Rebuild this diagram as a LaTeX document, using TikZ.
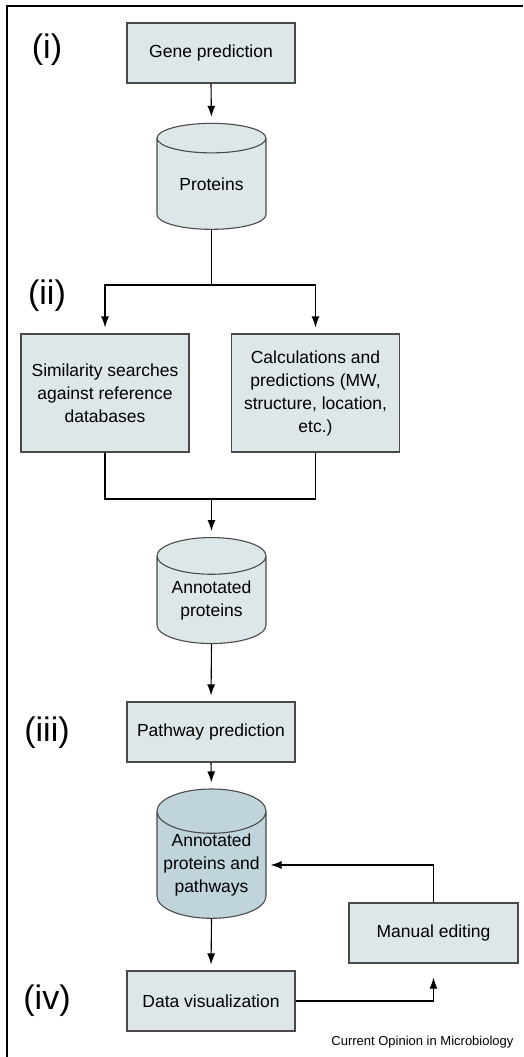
\documentclass[tikz,border=0pt]{standalone}
\usepackage{fontspec}
\setmainfont{Liberation Sans}
\usetikzlibrary{arrows.meta,shapes.geometric}

\definecolor{boxfill}{HTML}{DDE7EA}
\definecolor{darkfill}{HTML}{C0D4DC}
\definecolor{edgegrey}{HTML}{4A4A4A}

\tikzset{
  stepbox/.style={shape=rectangle, draw=edgegrey, line width=1.1pt, fill=boxfill, minimum width=168pt, minimum height=60pt, align=center, font=\fontsize{17.5}{23}\selectfont},
  store/.style={shape=cylinder, shape border rotate=90, aspect=0.46, draw=edgegrey, line width=1.1pt, fill=boxfill, minimum width=109pt, minimum height=106pt, align=center, inner sep=0pt, font=\fontsize{17.5}{23}\selectfont},
  stage/.style={font=\fontsize{34}{36}\selectfont},
  flow/.style={-{Latex[length=11pt,width=8pt]}, line width=1.1pt, shorten >=6pt},
  link/.style={-, line width=1.1pt}
}

\begin{document}
\begin{tikzpicture}[x=1pt, y=-1pt]
\useasboundingbox (0,0) rectangle (523,1057);
\draw[line width=1.1pt] (7,1057) -- (7,6) -- (523,6);
\node[stage] (L1) at (47,50) {(i)};
\node[stage] (L2) at (47,296) {(ii)};
\node[stage] (L3) at (47,733) {(iii)};
\node[stage] (L4) at (47,1001) {(iv)};
\node[stepbox] (G) at (211,53) {Gene prediction};
\node[store] (P) at (211.5,184) {Proteins};
\node[stepbox, minimum height=118pt] (S) at (105,393) {Similarity searches\\against reference\\databases};
\node[stepbox, minimum height=118pt] (C) at (315.5,393) {Calculations and\\predictions (MW,\\structure, location,\\etc.)};
\node[store] (A) at (211.5,600) {Annotated\\proteins};
\node[stepbox] (W) at (211,732) {Pathway prediction};
\node[store, fill=darkfill] (AP) at (211.5,865) {Annotated\\proteins and\\pathways};
\node[stepbox] (D) at (211,1001) {Data visualization};
\node[stepbox, minimum width=169pt] (M) at (433.5,933) {Manual editing};
\node[font=\fontsize{13}{15}\selectfont, anchor=east] (cap) at (517,1042) {Current Opinion in Microbiology};
\coordinate (s) at (211.5,285);
\coordinate (m) at (211.5,499);
\draw[flow] (G.south) -- (P.top);
\draw[link] (P.bottom) -- (s);
\draw[flow] (s) -| (S.north);
\draw[flow] (s) -| (C.north);
\draw[link] (S.south) |- (m) -| (C.south);
\draw[flow] (m) -- (A.top);
\draw[flow] (A.bottom) -- (W.north);
\draw[flow] (W.south) -- (AP.top);
\draw[flow] (AP.bottom) -- (D.north);
\draw[flow, shorten >=14pt] (D.east) -| (M.south);
\draw[flow, shorten >=4pt] (M.north) |- (AP.east);
\end{tikzpicture}
\end{document}
